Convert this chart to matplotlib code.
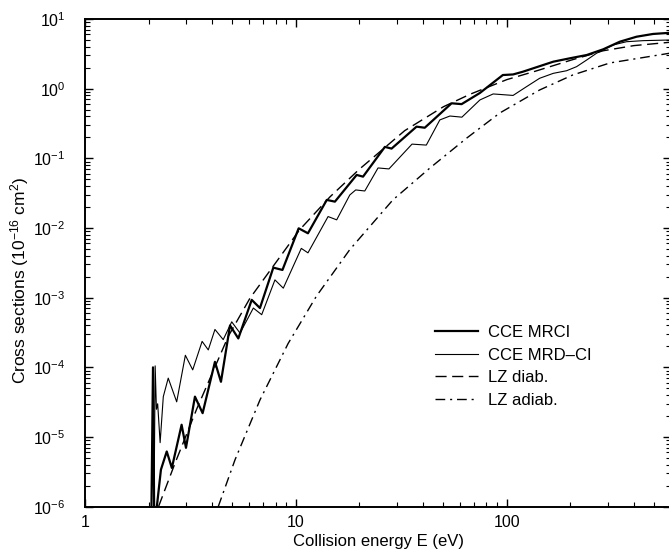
import numpy as np
import matplotlib
matplotlib.use("Agg")
import matplotlib.pyplot as plt
from matplotlib.ticker import LogLocator, NullFormatter, FixedLocator, FixedFormatter

plt.rcParams['font.family'] = ['Liberation Sans', 'DejaVu Sans']
plt.rcParams['mathtext.fontset'] = 'custom'
plt.rcParams['mathtext.rm'] = 'Liberation Sans'
plt.rcParams['mathtext.it'] = 'Liberation Sans:italic'
plt.rcParams['mathtext.default'] = 'regular'
plt.rcParams['font.size'] = 12

# CCE MRCI (thick)
e_mrci = [2.06, 2.10, 2.13, 2.19, 2.29, 2.44, 2.58, 2.87, 3.01, 3.32, 3.61, 4.13, 4.41,
          4.87, 5.33, 6.17, 6.75, 7.81, 8.63, 10.3, 11.4, 14.0, 15.3, 19.4, 20.8, 26.4,
          28.4, 37.3, 40.8, 54.7, 61.0, 74.5, 95.7, 107, 119, 166, 199, 239, 286, 343,
          412, 493, 600]
s_mrci = [5e-7, 1.0e-4, 5e-7, 1.0e-6, 3.4e-6, 6.2e-6, 3.6e-6, 1.5e-5, 7.0e-6, 3.8e-5,
          2.2e-5, 1.2e-4, 6.2e-5, 4.0e-4, 2.6e-4, 9.3e-4, 7.1e-4, 2.7e-3, 2.5e-3, 9.9e-3,
          8.4e-3, 0.0253, 0.0239, 0.0578, 0.0546, 0.146, 0.138, 0.285, 0.275, 0.617, 0.60,
          0.868, 1.57, 1.60, 1.75, 2.44, 2.73, 3.04, 3.67, 4.72, 5.57, 6.1, 6.35]

# CCE MRD-CI (thin)
e_mrdci = [2.12, 2.15, 2.18, 2.21, 2.27, 2.35, 2.48, 2.72, 2.99, 3.24, 3.59, 3.84, 4.13,
           4.52, 4.96, 5.43, 6.28, 6.88, 7.95, 8.71, 10.6, 11.4, 14.2, 15.6, 18.0, 19.2,
           21.2, 24.5, 27.6, 35.5, 41.5, 48.1, 53.7, 61.2, 74.5, 86.1, 107, 124, 143, 166,
           192, 214, 239, 266, 286, 319, 369, 443, 600]
s_mrdci = [5e-7, 1.05e-4, 2.5e-5, 3.0e-5, 8.3e-6, 3.8e-5, 7.0e-5, 3.2e-5, 1.49e-4, 9.2e-5,
           2.36e-4, 1.78e-4, 3.5e-4, 2.5e-4, 4.5e-4, 3.1e-4, 7.1e-4, 5.7e-4, 1.8e-3, 1.37e-3,
           5.1e-3, 4.4e-3, 0.0146, 0.0131, 0.0298, 0.0352, 0.034, 0.0728, 0.0705, 0.16, 0.155,
           0.356, 0.405, 0.39, 0.689, 0.84, 0.80, 1.07, 1.41, 1.66, 1.81, 2.07, 2.58, 3.22,
           3.59, 4.24, 4.72, 4.89, 5.0]

# LZ diabatic (dashed)
e_diab = [2.23, 2.67, 3.38, 4.78, 6.05, 10.4, 14.5, 20, 32.8, 50, 66.8, 100, 138, 200,
          286, 400, 600]
s_diab = [1e-6, 4.2e-6, 2.5e-5, 2.8e-4, 9.8e-4, 9.4e-3, 0.028, 0.07, 0.25, 0.55, 0.83,
          1.35, 1.8, 2.55, 3.5, 4.15, 4.65]

# LZ adiabatic (dash-dot)
e_adiab = [4.28, 5.14, 6.75, 9.18, 12.5, 18.0, 28.8, 43.2, 64.6, 92.6, 143, 205, 308, 600]
s_adiab = [1e-6, 4.7e-6, 3.4e-5, 2.2e-4, 1.05e-3, 4.9e-3, 0.0253, 0.0728, 0.196, 0.448,
           0.958, 1.57, 2.34, 3.25]

labels = ["CCE MRCI", "CCE MRD\u2013CI", "LZ diab.", "LZ adiab."]
y_majors = [1e-6, 1e-5, 1e-4, 1e-3, 1e-2, 1e-1, 1e0, 1e1]

fig = plt.figure(figsize=(6.69, 5.54), dpi=100)
ax = fig.add_axes([0.1271, 0.0854, 0.8759, 0.8803])

ax.plot(e_mrci, s_mrci, color='black', lw=1.6, solid_joinstyle='round', label=labels[0])
ax.plot(e_mrdci, s_mrdci, color='black', lw=0.8, solid_joinstyle='round', label=labels[1])
ax.plot(e_diab, s_diab, color='black', lw=1.0, linestyle=(0, (8, 4)), label=labels[2])
ax.plot(e_adiab, s_adiab, color='black', lw=1.0, linestyle=(0, (7, 3.5, 1.5, 3.5)), label=labels[3])

ax.set_xscale('log')
ax.set_yscale('log')
ax.set_xlim(1, 600)
ax.set_ylim(1e-6, 1e1)

ax.xaxis.set_major_locator(FixedLocator([1, 10, 100]))
ax.xaxis.set_major_formatter(FixedFormatter(["1", "10", "100"]))
ax.xaxis.set_minor_locator(LogLocator(base=10, subs=np.arange(2, 10), numticks=50))
ax.xaxis.set_minor_formatter(NullFormatter())
ax.yaxis.set_major_locator(FixedLocator(y_majors))
ax.yaxis.set_major_formatter(FixedFormatter(
    ["$10^{%d}$" % int(round(np.log10(v))) for v in y_majors]))
ax.yaxis.set_minor_locator(LogLocator(base=10, subs=np.arange(2, 10), numticks=50))
ax.yaxis.set_minor_formatter(NullFormatter())

ax.tick_params(which='both', direction='in', top=True, right=True, labelsize=11.5)
ax.tick_params(which='major', length=6, width=1.0)
ax.tick_params(which='minor', length=3.5, width=0.8)
ax.tick_params(axis='x', which='major', pad=6)
ax.tick_params(axis='y', which='major', pad=14)
for sp in ax.spines.values():
    sp.set_linewidth(1.4)

ax.set_xlabel("Collision energy E (eV)", fontsize=12, labelpad=3)
ax.set_ylabel("Cross sections (10$^{-16}$ cm$^{2}$)", fontsize=12.5)
ax.yaxis.set_label_coords(-0.092, 0.465)

ax.legend(loc='upper left', bbox_to_anchor=(0.597, 0.372), frameon=False, fontsize=12,
          borderpad=0, borderaxespad=0, handlelength=2.6, handletextpad=0.6,
          labelspacing=0.45)

fig.savefig("out.png", dpi=100)
